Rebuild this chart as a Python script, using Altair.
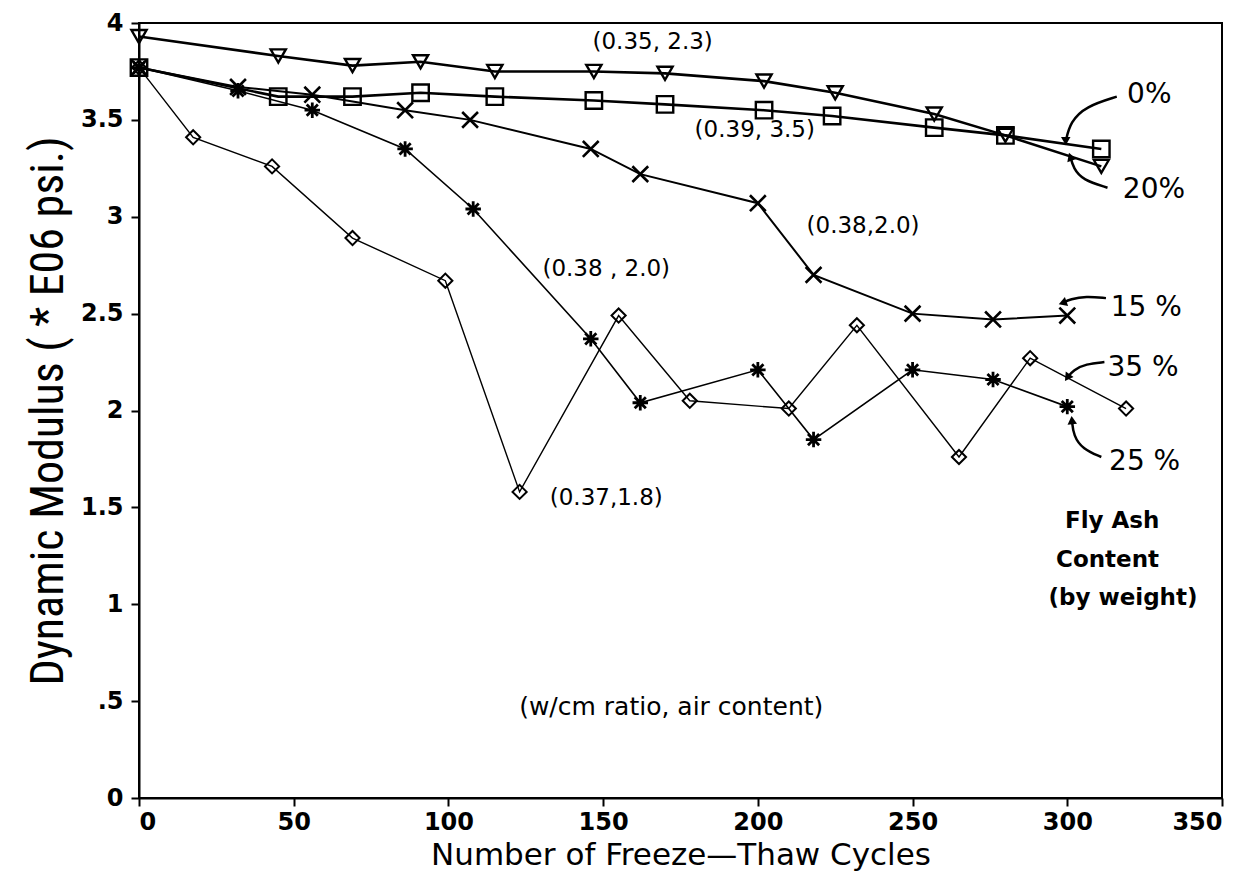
import altair as alt
import pandas as pd

# ---------------- data ----------------
cycles_0 = [0, 45, 69, 91, 115, 147, 170, 202, 224, 257, 280, 311]
mod_0 = [3.77, 3.62, 3.62, 3.64, 3.62, 3.60, 3.58, 3.55, 3.52, 3.46, 3.42, 3.35]

cycles_20 = [0, 45, 69, 91, 115, 147, 170, 202, 225, 257, 280, 311]
mod_20 = [3.93, 3.83, 3.78, 3.80, 3.75, 3.75, 3.74, 3.70, 3.64, 3.53, 3.42, 3.26]

cycles_15 = [0, 32, 56, 86, 107, 146, 162, 200, 218, 250, 276, 300]
mod_15 = [3.77, 3.67, 3.63, 3.55, 3.50, 3.35, 3.22, 3.07, 2.70, 2.50, 2.47, 2.49]

cycles_25 = [0, 32, 56, 86, 108, 146, 162, 200, 218, 250, 276, 300]
mod_25 = [3.77, 3.65, 3.55, 3.35, 3.04, 2.37, 2.04, 2.21, 1.85, 2.21, 2.16, 2.02]

cycles_35 = [0, 17.5, 43, 69, 99, 123, 155, 178, 210, 232, 265, 288, 319]
mod_35 = [3.77, 3.41, 3.26, 2.89, 2.67, 1.58, 2.49, 2.05, 2.01, 2.44, 1.76, 2.27, 2.01]

# annotation texts
note_text = ["(0.35, 2.3)", "(0.39, 3.5)", "(0.38,2.0)", "(0.38 , 2.0)", "(0.37,1.8)",
             "(w/cm  ratio, air content)"]
note_x = [166, 199, 234, 151, 151, 172]
note_y = [3.90, 3.45, 2.95, 2.73, 1.55, 0.47]

pct_text = ["0%", "20%", "15 %", "35 %", "25 %"]
pct_x = [326.5, 328, 325.5, 324.5, 325]
pct_y = [3.63, 3.14, 2.53, 2.22, 1.735]

key_text = ["Fly Ash", "Content", "(by weight)"]
key_x = [314.5, 313, 318]
key_y = [1.43, 1.23, 1.03]

# arrows from the percentage labels to their curves
arrow_id = ["0%"] * 4 + ["20%"] * 4 + ["15%"] * 4 + ["35%"] * 4 + ["25%"] * 4
arrow_x = [316, 306, 301, 299.5,
           313, 305, 302, 301,
           312.5, 306, 301, 298.5,
           312, 306, 302, 300,
           311, 305, 302, 301.5]
arrow_y = [3.62, 3.57, 3.49, 3.39,
           3.15, 3.19, 3.25, 3.31,
           2.58, 2.59, 2.575, 2.555,
           2.25, 2.24, 2.21, 2.17,
           1.76, 1.80, 1.87, 1.95]
head_angle = [180, 340, 250, 215, 355]

# ---------------- chart ----------------
FONT = "DejaVu Sans"
NARROW = "Liberation Sans Narrow, Roboto Condensed, DejaVu Sans Condensed, Liberation Sans"
X_PATH = "M-1,-1L1,1M-1,1L1,-1"
STAR_PATH = "M-1,0L1,0M0,-1L0,1M-0.72,-0.72L0.72,0.72M-0.72,0.72L0.72,-0.72"

xscale = alt.Scale(domain=[0, 350], nice=False)
yscale = alt.Scale(domain=[0, 4], nice=False)

xenc = alt.X("c:Q", scale=xscale,
             axis=alt.Axis(title="Number of Freeze\u2014Thaw Cycles",
                           values=[0, 50, 100, 150, 200, 250, 300, 350]))
yenc = alt.Y("v:Q", scale=yscale,
             axis=alt.Axis(title="Dynamic Modulus ( * E06 psi.)",
                           values=[0, 0.5, 1, 1.5, 2, 2.5, 3, 3.5, 4],
                           labelExpr="datum.value == 0.5 ? '.5' : format(datum.value, '~g')"))

series = [
    (cycles_35, mod_35, "diamond", 1.4, 200, 2.0),
    (cycles_25, mod_25, STAR_PATH, 1.6, 240, 2.8),
    (cycles_15, mod_15, X_PATH, 2.0, 250, 2.6),
    (cycles_0, mod_0, "square", 2.6, 270, 2.4),
    (cycles_20, mod_20, "triangle-down", 2.6, 230, 2.4),
]

layers = []
for cx, vy, shape, lw, size, mw in series:
    df = pd.DataFrame({"c": cx, "v": vy, "i": list(range(len(cx)))})
    base = alt.Chart(df)
    layers.append(base.mark_line(color="black", strokeWidth=lw).encode(
        x=xenc, y=yenc, order="i:Q"))
    layers.append(base.mark_point(shape=shape, filled=False, color="black",
                                  strokeWidth=mw, size=size, opacity=1).encode(
        x=xenc, y=yenc))

notes = pd.DataFrame({"t": note_text, "c": note_x, "v": note_y})
note_sizes = [23, 23, 23, 23, 23, 25]
notes["fs"] = note_sizes
layers.append(alt.Chart(notes).mark_text(font=FONT, color="black",
                                         align="center", baseline="middle").encode(
    x=alt.X("c:Q", scale=xscale), y=alt.Y("v:Q", scale=yscale), text="t:N",
    size=alt.Size("fs:Q", scale=None, legend=None)))

pcts = pd.DataFrame({"t": pct_text, "c": pct_x, "v": pct_y})
layers.append(alt.Chart(pcts).mark_text(font=FONT, fontSize=28, color="black",
                                        align="center", baseline="middle").encode(
    x=alt.X("c:Q", scale=xscale), y=alt.Y("v:Q", scale=yscale), text="t:N"))

keys = pd.DataFrame({"t": key_text, "c": key_x, "v": key_y})
layers.append(alt.Chart(keys).mark_text(font=FONT, fontSize=23, fontWeight="bold",
                                        color="black", align="center",
                                        baseline="middle").encode(
    x=alt.X("c:Q", scale=xscale), y=alt.Y("v:Q", scale=yscale), text="t:N"))

arrows = pd.DataFrame({"a": arrow_id, "c": arrow_x, "v": arrow_y,
                       "i": list(range(len(arrow_x)))})
layers.append(alt.Chart(arrows).mark_line(color="black", strokeWidth=2.5,
                                          interpolate="basis").encode(
    x=alt.X("c:Q", scale=xscale), y=alt.Y("v:Q", scale=yscale),
    detail="a:N", order="i:Q"))

ends = arrows.groupby("a", sort=False).tail(1).copy()
ends["ang"] = head_angle
layers.append(alt.Chart(ends).mark_point(shape="triangle-up", filled=True,
                                         color="black", size=90, opacity=1).encode(
    x=alt.X("c:Q", scale=xscale), y=alt.Y("v:Q", scale=yscale),
    angle=alt.Angle("ang:Q", scale=None)))

chart = alt.layer(*layers).properties(
    width=1083, height=775,
    autosize=alt.AutoSizeParams(type="none"),
    padding={"left": 131, "top": 15, "right": 27, "bottom": 77},
).configure_view(
    stroke="black", strokeWidth=2
).configure_axis(
    grid=False, domainColor="black", domainWidth=2, tickColor="black",
    tickWidth=2, tickSize=8, labelFont=FONT, labelFontSize=24,
    labelFontWeight="bold", labelColor="black", titleFontWeight="normal",
    titleColor="black"
).configure_axisX(
    labelPadding=4, titleFont=FONT, titleFontSize=31, titlePadding=6
).configure_axisY(
    labelPadding=8, titleFont=NARROW, titleFontSize=46, titlePadding=8
)

chart.save("out.html", embed_options={"renderer": "svg", "actions": False})
